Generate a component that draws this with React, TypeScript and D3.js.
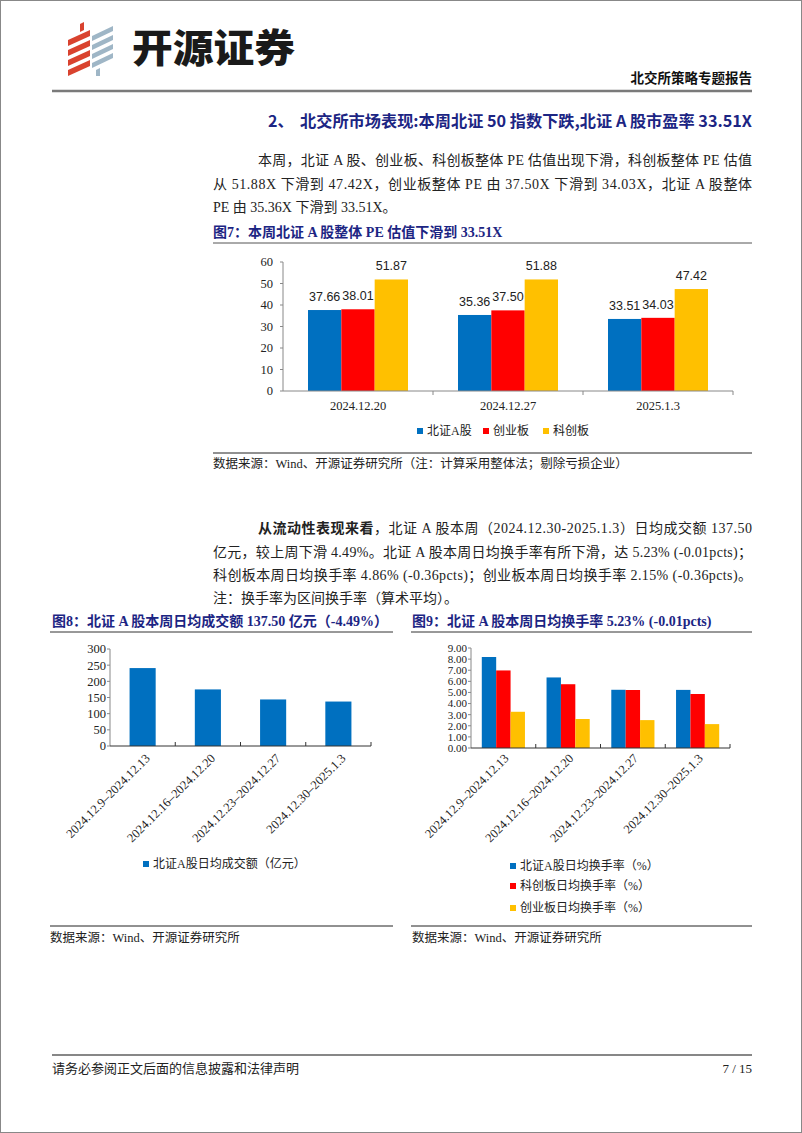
import React from "react";
import * as d3 from "d3";

// ---------- data ----------
const peCategories = ["2024.12.20", "2024.12.27", "2025.1.3"];
const peSeries = ["北证A股", "创业板", "科创板"];
const peBeizheng = [37.66, 35.36, 33.51];
const peChuangye = [38.01, 37.5, 34.03];
const peKechuang = [51.87, 51.88, 47.42];
const peTicks = [0, 10, 20, 30, 40, 50, 60];

const weekCategories = [
  "2024.12.9–2024.12.13",
  "2024.12.16–2024.12.20",
  "2024.12.23–2024.12.27",
  "2024.12.30–2025.1.3",
];
const amountSeries = "北证A股日均成交额（亿元）";
const amountValues = [241, 175, 143.96, 137.5];
const amountTicks = [0, 50, 100, 150, 200, 250, 300];

const turnoverSeries = ["北证A股日均换手率（%）", "科创板日均换手率（%）", "创业板日均换手率（%）"];
const turnoverBeizheng = [8.19, 6.35, 5.24, 5.23];
const turnoverKechuang = [6.98, 5.74, 5.22, 4.86];
const turnoverChuangye = [3.26, 2.61, 2.51, 2.15];
const turnoverTicks = [0, 1, 2, 3, 4, 5, 6, 7, 8, 9];

const COLORS = ["#0070C0", "#FF0000", "#FFC000"];
const NAVY = "#1c2583";
const SERIF = "'Liberation Serif', 'Noto Sans CJK SC', serif";
const SANS = "'Liberation Sans', 'Noto Sans', sans-serif";
const CJK = "'Noto Sans CJK SC', sans-serif";

// ---------- chart 1 ----------
function PEChart() {
  const x0 = d3.scaleBand<string>().domain(peCategories).range([283, 733]).padding(0);
  const x1 = d3.scaleBand<string>().domain(peSeries).range([0, x0.bandwidth()]).paddingInner(0).paddingOuter(0.75);
  const y = d3.scaleLinear().domain([0, 60]).range([391, 262]);
  const vals = [peBeizheng, peChuangye, peKechuang];
  return (
    <g>
      {peSeries.map((s, si) =>
        peCategories.map((c, ci) => {
          const v = vals[si][ci];
          const bx = (x0(c) as number) + (x1(s) as number);
          return (
            <g key={s + c}>
              <rect x={bx} y={y(v)} width={x1.bandwidth()} height={y(0) - y(v)} fill={COLORS[si]} />
              <text x={bx + x1.bandwidth() / 2} y={y(v) - 9} textAnchor="middle" fontFamily={SANS} fontSize={12.5} fill="#222">
                {v.toFixed(2)}
              </text>
            </g>
          );
        })
      )}
      <line x1={283} x2={283} y1={262} y2={391} stroke="#888" />
      <line x1={283} x2={733} y1={391} y2={391} stroke="#888" />
      {peTicks.map((t) => (
        <g key={t}>
          <line x1={280} x2={283} y1={y(t)} y2={y(t)} stroke="#888" />
          <text x={273} y={y(t)} dy="0.35em" textAnchor="end" fontFamily={SERIF} fontSize={12.5} fill="#222">
            {t}
          </text>
        </g>
      ))}
      {peCategories.map((c) => (
        <g key={c}>
          <line x1={(x0(c) as number) + x0.bandwidth()} x2={(x0(c) as number) + x0.bandwidth()} y1={391} y2={395} stroke="#888" />
          <text x={(x0(c) as number) + x0.bandwidth() / 2} y={406} dy="0.35em" textAnchor="middle" fontFamily={SERIF} fontSize={12.5} fill="#222">
            {c}
          </text>
        </g>
      ))}
      {peSeries.map((s, i) => {
        const lx = [417, 483, 543][i];
        return (
          <g key={s}>
            <rect x={lx} y={428} width={6} height={6} fill={COLORS[i]} />
            <text x={lx + 10} y={431} dy="0.35em" fontFamily={SERIF} fontSize={12} fill="#222">
              {s}
            </text>
          </g>
        );
      })}
    </g>
  );
}

// ---------- chart 2 ----------
function AmountChart() {
  const x0 = d3.scaleBand<string>().domain(weekCategories).range([110, 371]).padding(0);
  const y = d3.scaleLinear().domain([0, 300]).range([746, 649]);
  const bw = x0.bandwidth();
  return (
    <g>
      {weekCategories.map((c, i) => {
        const v = amountValues[i];
        return <rect key={c} x={(x0(c) as number) + bw * 0.3} y={y(v)} width={bw * 0.4} height={y(0) - y(v)} fill={COLORS[0]} />;
      })}
      <line x1={110} x2={110} y1={649} y2={746} stroke="#888" />
      <line x1={110} x2={371} y1={746} y2={746} stroke="#333" />
      {amountTicks.map((t) => (
        <g key={t}>
          <line x1={107} x2={110} y1={y(t)} y2={y(t)} stroke="#888" />
          <text x={106} y={y(t)} dy="0.35em" textAnchor="end" fontFamily={SERIF} fontSize={12.5} fill="#222">
            {t}
          </text>
        </g>
      ))}
      {weekCategories.map((c) => {
        const cx = (x0(c) as number) + bw / 2;
        return (
          <g key={c}>
            <line x1={(x0(c) as number) + bw} x2={(x0(c) as number) + bw} y1={742} y2={746} stroke="#333" />
            <text transform={`translate(${cx + 5},${756}) rotate(-45)`} textAnchor="end" dy="0.35em" fontFamily={SERIF} fontSize={12.5} fill="#222">
              {c}
            </text>
          </g>
        );
      })}
      <rect x={143} y={861} width={6} height={6} fill={COLORS[0]} />
      <text x={153} y={864} dy="0.35em" fontFamily={SERIF} fontSize={12} fill="#222">
        {amountSeries}
      </text>
    </g>
  );
}

// ---------- chart 3 ----------
function TurnoverChart() {
  const x0 = d3.scaleBand<string>().domain(weekCategories).range([471, 730]).padding(0);
  const x1 = d3.scaleBand<string>().domain(turnoverSeries).range([0, x0.bandwidth()]).paddingInner(0).paddingOuter(0.75);
  const y = d3.scaleLinear().domain([0, 9]).range([748, 648]);
  const vals = [turnoverBeizheng, turnoverKechuang, turnoverChuangye];
  const bw = x0.bandwidth();
  return (
    <g>
      {turnoverSeries.map((s, si) =>
        weekCategories.map((c, ci) => {
          const v = vals[si][ci];
          return (
            <rect key={s + c} x={(x0(c) as number) + (x1(s) as number)} y={y(v)} width={x1.bandwidth()} height={y(0) - y(v)} fill={COLORS[si]} />
          );
        })
      )}
      <line x1={471} x2={471} y1={648} y2={748} stroke="#888" />
      <line x1={471} x2={730} y1={748} y2={748} stroke="#333" />
      {turnoverTicks.map((t) => (
        <g key={t}>
          <line x1={468} x2={471} y1={y(t)} y2={y(t)} stroke="#888" />
          <text x={467} y={y(t)} dy="0.35em" textAnchor="end" fontFamily={SERIF} fontSize={11} fill="#222">
            {d3.format(".2f")(t)}
          </text>
        </g>
      ))}
      {weekCategories.map((c) => {
        const cx = (x0(c) as number) + bw / 2;
        return (
          <g key={c}>
            <line x1={(x0(c) as number) + bw} x2={(x0(c) as number) + bw} y1={744} y2={748} stroke="#333" />
            <text transform={`translate(${cx + 3},${756}) rotate(-45)`} textAnchor="end" dy="0.35em" fontFamily={SERIF} fontSize={12.5} fill="#222">
              {c}
            </text>
          </g>
        );
      })}
      {turnoverSeries.map((s, i) => {
        const ly = [866, 886, 908][i];
        return (
          <g key={s}>
            <rect x={510} y={ly - 3} width={6} height={6} fill={COLORS[i]} />
            <text x={520} y={ly} dy="0.35em" fontFamily={SERIF} fontSize={12} fill="#222">
              {s}
            </text>
          </g>
        );
      })}
    </g>
  );
}

function Logo() {
  const red = "#d9432f";
  const blue = "#9fb6c6";
  const stripes = [0, 1, 2, 3];
  return (
    <g>
      {stripes.map((i) => (
        <path key={"r" + i} d={`M${68} ${40 + i * 10} L${90} ${30 + i * 10} L${90} ${36 + i * 10} L${68} ${46 + i * 10} Z`} fill={red} />
      ))}
      <path d="M80 24 L84 22 L84 30 L80 32 Z" fill={red} />
      {stripes.map((i) => (
        <path key={"b" + i} d={`M${92} ${36 + i * 9} L${113} ${26 + i * 9} L${113} ${31 + i * 9} L${92} ${41 + i * 9} Z`} fill={blue} />
      ))}
      <path d="M96 70 L100 68 L100 76 L96 76 Z" fill={blue} />
      <text x={132} y={48} dy="0.36em" fontFamily={CJK} fontWeight={900} fontSize={39} textLength={163} lengthAdjust="spacingAndGlyphs" fill="#1a1a1a">
        开源证券
      </text>
    </g>
  );
}

export default function App() {
  return (
    <svg width={802} height={1133} viewBox="0 0 802 1133" style={{ position: "absolute", left: 0, top: 0, background: "#fff" }}>
      <rect x={0.5} y={0.5} width={801} height={1132} fill="#fff" stroke="#888" />
      <Logo />
      <text x={752} y={83} textAnchor="end" fontFamily={SERIF} fontWeight="bold" fontSize={13.5} fill="#111">
        北交所策略专题报告
      </text>
      <line x1={52} x2={752} y1={91} y2={91} stroke="#7a7a7a" strokeWidth={2.5} />

      {/* heading */}
      <text x={268} y={121} dy="0.35em" fontFamily={CJK} fontWeight="bold" fontSize={16} fill={NAVY}>
        2、
      </text>
      <text x={300} y={121} dy="0.35em" fontFamily={CJK} fontWeight="bold" fontSize={16} fill={NAVY} textLength={452} lengthAdjust="spacingAndGlyphs">
        北交所市场表现:本周北证 50 指数下跌,北证 A 股市盈率 33.51X
      </text>

      {/* paragraph 1 */}
      <g fontFamily={SERIF} fontSize={14} fill="#222">
        <text x={258} y={160} dy="0.35em" textLength={494} lengthAdjust="spacing">
          本周，北证 A 股、创业板、科创板整体 PE 估值出现下滑，科创板整体 PE 估值
        </text>
        <text x={213} y={184} dy="0.35em" textLength={539} lengthAdjust="spacing">
          从 51.88X 下滑到 47.42X，创业板整体 PE 由 37.50X 下滑到 34.03X，北证 A 股整体
        </text>
        <text x={213} y={207} dy="0.35em">
          PE 由 35.36X 下滑到 33.51X。
        </text>
      </g>

      {/* figure 7 */}
      <text x={213} y={232} dy="0.35em" fontFamily={SERIF} fontWeight="bold" fontSize={14} fill={NAVY}>
        图7：本周北证 A 股整体 PE 估值下滑到 33.51X
      </text>
      <line x1={213} x2={752} y1={243} y2={243} stroke="#555" strokeWidth={1} />
      <PEChart />
      <line x1={213} x2={752} y1={453} y2={453} stroke="#222" strokeWidth={1} />
      <text x={213} y={464} dy="0.35em" fontFamily={SERIF} fontSize={12.5} fill="#222">
        数据来源：Wind、开源证券研究所（注：计算采用整体法；剔除亏损企业）
      </text>

      {/* paragraph 2 */}
      <g fontFamily={SERIF} fontSize={14} fill="#222">
        <text x={258} y={528} dy="0.35em" textLength={494} lengthAdjust="spacing">
          <tspan fontWeight="bold">从流动性表现来看</tspan>，北证 A 股本周（2024.12.30-2025.1.3）日均成交额 137.50
        </text>
        <text x={213} y={552} dy="0.35em" textLength={539} lengthAdjust="spacing">
          亿元，较上周下滑 4.49%。北证 A 股本周日均换手率有所下滑，达 5.23% (-0.01pcts)；
        </text>
        <text x={213} y={575} dy="0.35em" textLength={539} lengthAdjust="spacing">
          科创板本周日均换手率 4.86% (-0.36pcts)；创业板本周日均换手率 2.15% (-0.36pcts)。
        </text>
        <text x={213} y={598} dy="0.35em">
          注：换手率为区间换手率（算术平均）。
        </text>
      </g>

      {/* figure 8 */}
      <text x={52} y={621} dy="0.35em" fontFamily={SERIF} fontWeight="bold" fontSize={14} fill={NAVY}>
        图8：北证 A 股本周日均成交额 137.50 亿元（-4.49%）
      </text>
      <line x1={50} x2={393} y1={632} y2={632} stroke="#333" strokeWidth={1} />
      <AmountChart />
      <line x1={50} x2={393} y1={926} y2={926} stroke="#222" strokeWidth={1} />
      <text x={50} y={938} dy="0.35em" fontFamily={SERIF} fontSize={12.5} fill="#222">
        数据来源：Wind、开源证券研究所
      </text>

      {/* figure 9 */}
      <text x={412} y={621} dy="0.35em" fontFamily={SERIF} fontWeight="bold" fontSize={14} fill={NAVY}>
        图9：北证 A 股本周日均换手率 5.23% (-0.01pcts)
      </text>
      <line x1={411} x2={752} y1={632} y2={632} stroke="#333" strokeWidth={1} />
      <TurnoverChart />
      <line x1={411} x2={752} y1={926} y2={926} stroke="#222" strokeWidth={1} />
      <text x={412} y={938} dy="0.35em" fontFamily={SERIF} fontSize={12.5} fill="#222">
        数据来源：Wind、开源证券研究所
      </text>

      {/* footer */}
      <line x1={52} x2={752} y1={1055} y2={1055} stroke="#111" strokeWidth={1.2} />
      <text x={52} y={1068} dy="0.35em" fontFamily={SERIF} fontSize={13} fill="#222">
        请务必参阅正文后面的信息披露和法律声明
      </text>
      <text x={752} y={1068} dy="0.35em" textAnchor="end" fontFamily={SERIF} fontSize={13} fill="#222">
        7 / 15
      </text>
    </svg>
  );
}
